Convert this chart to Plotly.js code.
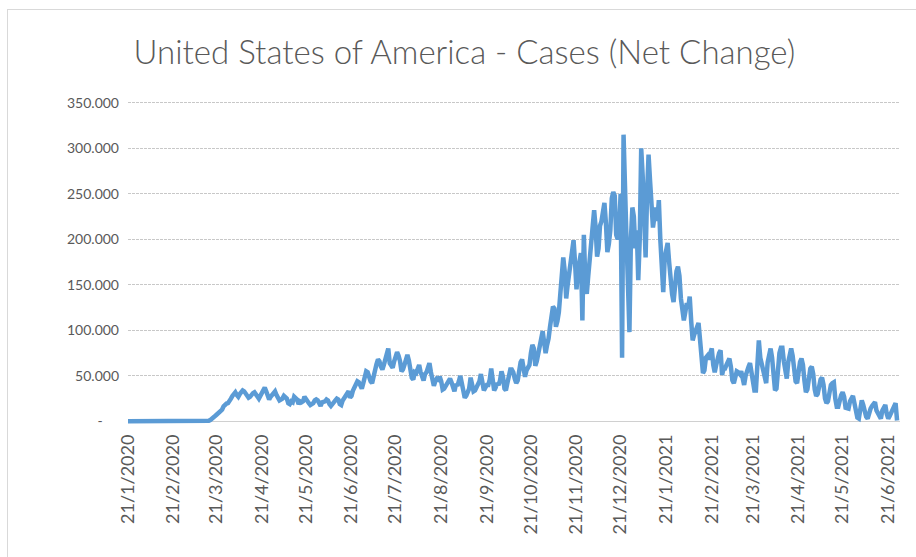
<!DOCTYPE html>
<html>
<head>
<meta charset="utf-8">
<script src="https://cdn.plot.ly/plotly-3.0.1.min.js"></script>
<style>
  html, body { margin: 0; padding: 0; width: 916px; height: 557px; overflow: hidden; background: #ffffff; }
  #frame { position: absolute; left: 7px; top: 9px; width: 1200px; height: 1200px;
           border-left: 1px solid #d9d9d9; border-top: 1px solid #d9d9d9; }
  #chart { position: absolute; left: 0; top: 0; width: 916px; height: 557px; }
</style>
</head>
<body>
<div id="frame"></div>
<div id="chart"></div>
<script>
// ---- data ----
const chartTitle = "United States of America - Cases (Net Change)";
const startDate = "2020-01-21"; // first daily value; one value per consecutive day
const dailyCases = [
  1, 0, 0, 2, 0, 0, 0,
  0, 0, 0, 2, 1, 0, 0,
  0, 3, 0, 0, 0, 0, 1,
  0, 0, 0, 0, 0, 0, 0,
  0, 0, 0, 1, 0, 0, 0,
  0, 0, 2, 5, 3, 7, 13,
  6, 29, 21, 31, 68, 69, 116,
  106, 163, 290, 277, 414, 578, 803,
  1500, 2500, 4000, 5500, 7000, 8500, 10000,
  11500, 13000, 16500, 18500, 19500, 20000, 22000,
  25000, 28000, 30000, 32000, 29000, 27000, 30000,
  33000, 34000, 33000, 30000, 28000, 26000, 27000,
  30000, 31000, 32000, 29000, 27000, 25000, 28000,
  31000, 36000, 37000, 33000, 27000, 24000, 27000,
  29000, 31000, 33000, 29000, 26000, 23000, 24000,
  25000, 28000, 27000, 25000, 20000, 19000, 22000,
  21000, 27000, 25000, 24000, 19000, 22000, 21000,
  22000, 27000, 24000, 22000, 20000, 18000, 19000,
  20000, 23000, 24000, 23000, 20000, 17000, 21000,
  21000, 22000, 24000, 23000, 19000, 17000, 19000,
  22000, 23000, 25000, 24000, 19000, 18000, 23000,
  26000, 29000, 32000, 33000, 26000, 28000, 34000,
  38000, 40000, 44000, 43000, 40000, 36000, 42000,
  50000, 55000, 54000, 48000, 44000, 42000, 50000,
  61000, 63000, 68000, 66000, 60000, 57000, 62000,
  68000, 76000, 80000, 64000, 62000, 59000, 66000,
  71000, 76000, 72000, 66000, 55000, 57000, 62000,
  68000, 73000, 67000, 56000, 48000, 46000, 54000,
  53000, 58000, 62000, 54000, 47000, 45000, 52000,
  54000, 59000, 64000, 54000, 42000, 39000, 44000,
  47000, 46000, 49000, 44000, 35000, 36000, 39000,
  43000, 45000, 47000, 43000, 35000, 33000, 41000,
  39000, 44000, 50000, 42000, 32000, 26000, 28000,
  34000, 36000, 48000, 40000, 33000, 34000, 38000,
  39000, 44000, 52000, 42000, 34000, 37000, 40000,
  40000, 46000, 58000, 42000, 34000, 37000, 42000,
  40000, 45000, 55000, 49000, 36000, 34000, 42000,
  51000, 57000, 57000, 54000, 47000, 42000, 45000,
  58000, 65000, 68000, 57000, 49000, 56000, 60000,
  62000, 75000, 84000, 80000, 61000, 66000, 74000,
  79000, 90000, 99000, 87000, 75000, 84000, 91000,
  104000, 121000, 126000, 124000, 104000, 110000, 120000,
  140000, 155000, 180000, 165000, 135000, 150000, 162000,
  170000, 190000, 199000, 175000, 145000, 165000, 175000,
  185000, 111000, 205000, 155000, 140000, 160000, 180000,
  200000, 218000, 232000, 213000, 181000, 190000, 215000,
  220000, 230000, 240000, 218000, 186000, 195000, 210000,
  245000, 252000, 248000, 205000, 200000, 210000, 250000,
  70000, 315000, 230000, 200000, 150000, 98000, 200000,
  235000, 225000, 190000, 210000, 155000, 200000, 300000,
  270000, 220000, 180000, 250000, 293000, 265000, 230000,
  213000, 225000, 235000, 220000, 243000, 200000, 165000,
  142000, 180000, 190000, 196000, 175000, 150000, 140000,
  131000, 150000, 165000, 170000, 160000, 135000, 120000,
  111000, 120000, 130000, 125000, 137000, 110000, 89000,
  95000, 100000, 104000, 108000, 90000, 70000, 53000,
  56000, 70000, 72000, 68000, 75000, 80000, 62000,
  54000, 62000, 70000, 75000, 78000, 51000, 58000,
  58000, 62000, 66000, 69000, 60000, 45000, 42000,
  50000, 55000, 54000, 52000, 55000, 45000, 40000,
  50000, 58000, 60000, 64000, 55000, 40000, 34000,
  34000, 60000, 89000, 70000, 62000, 55000, 48000,
  42000, 65000, 72000, 80000, 70000, 45000, 34000,
  36000, 62000, 75000, 81000, 81000, 66000, 52000,
  47000, 65000, 75000, 80000, 72000, 55000, 44000,
  42000, 58000, 65000, 69000, 62000, 45000, 32000,
  35000, 52000, 58000, 60000, 52000, 35000, 28000,
  30000, 42000, 46000, 48000, 40000, 25000, 20000,
  22000, 34000, 40000, 42000, 43000, 25000, 16000,
  16000, 25000, 29000, 32000, 27000, 15000, 14000,
  14000, 22000, 26000, 28000, 20000, 8000, 4000,
  3000, 15000, 23000, 18000, 10000, 5000, 3000,
  10000, 14000, 17000, 19000, 21000, 12000, 8000,
  5000, 3000, 12000, 15000, 18000, 8000, 3000,
  6000, 10000, 13000, 16000, 20000, 1000
];
const xTickDates = [
  "2020-01-21","2020-02-21","2020-03-21","2020-04-21","2020-05-21","2020-06-21",
  "2020-07-21","2020-08-21","2020-09-21","2020-10-21","2020-11-21","2020-12-21",
  "2021-01-21","2021-02-21","2021-03-21","2021-04-21","2021-05-21","2021-06-21"
];
const xTickLabels = [
  "21/1/2020","21/2/2020","21/3/2020","21/4/2020","21/5/2020","21/6/2020",
  "21/7/2020","21/8/2020","21/9/2020","21/10/2020","21/11/2020","21/12/2020",
  "21/1/2021","21/2/2021","21/3/2021","21/4/2021","21/5/2021","21/6/2021"
];
const yTickValues = [0, 50000, 100000, 150000, 200000, 250000, 300000, 350000];
const yTickLabels = ["-\u2007\u2007", "50.000", "100.000", "150.000", "200.000", "250.000", "300.000", "350.000"];

// ---- day sequence for the x categories ----
const dates = [];
{
  const d0 = new Date(startDate + "T00:00:00Z");
  for (let i = 0; i < dailyCases.length; i++) {
    const d = new Date(d0.getTime() + i * 86400000);
    dates.push(d.toISOString().slice(0, 10));
  }
}

const fontFam = "Lato, 'Open Sans', sans-serif";
const textCol = "#595959";

const trace = {
  type: "scatter",
  mode: "lines",
  x: dates,
  y: dailyCases,
  line: { color: "#5B9BD5", width: 4.5, shape: "linear" },
  hoverinfo: "x+y"
};

const layout = {
  width: 916,
  height: 557,
  paper_bgcolor: "rgba(0,0,0,0)",
  plot_bgcolor: "rgba(0,0,0,0)",
  margin: { l: 128, r: 16, t: 101, b: 132, pad: 0 },
  showlegend: false,
  title: {
    text: chartTitle,
    font: { family: fontFam, size: 33, color: textCol, weight: 300 },
    x: 0.507, xref: "container", xanchor: "center",
    y: 1 - 52 / 557, yref: "container", yanchor: "middle"
  },
  xaxis: {
    type: "date",
    range: ["2020-01-21", "2021-06-29"],
    tickmode: "array",
    tickvals: xTickDates,
    ticktext: xTickLabels,
    tickangle: -90,
    tickfont: { family: fontFam, size: 18, color: textCol },
    showgrid: false,
    zeroline: false,
    showline: false,
    ticks: "",
    ticklabelstandoff: 5
  },
  yaxis: {
    range: [-4000, 352000],
    tickmode: "array",
    tickvals: yTickValues,
    ticktext: yTickLabels,
    tickfont: { family: fontFam, size: 14, color: textCol },
    showgrid: true,
    gridcolor: "#c8c8c8",
    gridwidth: 1,
    griddash: "3px,1px",
    zeroline: true,
    zerolinecolor: "#d0d0d0",
    zerolinewidth: 1,
    showline: false,
    ticks: "",
    ticklabelstandoff: 8,
    fixedrange: true
  }
};

Plotly.newPlot("chart", [trace], layout, { displayModeBar: false, staticPlot: true });
</script>
</body>
</html>
